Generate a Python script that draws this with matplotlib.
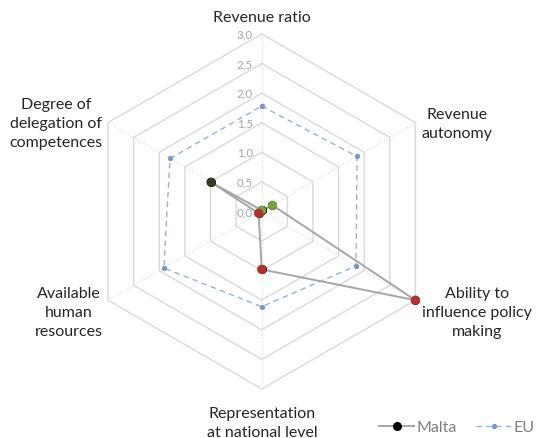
"""Radar chart: Malta vs EU local autonomy indicators"""
import numpy as np
import matplotlib
matplotlib.use('Agg')
import matplotlib.pyplot as plt

plt.rcParams['font.family'] = ['Lato', 'DejaVu Sans']

categories = ['Revenue ratio', 'Revenue\nautonomy',
              'Ability to\ninfluence policy\nmaking',
              'Representation\nat national level',
              'Available\nhuman\nresources',
              'Degree of\ndelegation of\ncompetences']
malta = [0.02, 0.21, 3.0, 0.98, 0.06, 0.99]
eu = [1.78, 1.86, 1.84, 1.61, 1.91, 1.79]
malta_point_colors = ['#7AA23C', '#7AA23C', '#B3312F', '#B3312F', '#B3312F', '#3B3A2A']
rings = [0.5, 1.0, 1.5, 2.0, 2.5, 3.0]
ring_labels = ['0,0', '0,5', '1,0', '1,5', '2,0', '2,5', '3,0']

n = len(categories)
angles = np.linspace(0, 2 * np.pi, n, endpoint=False)
closed = np.append(angles, angles[0])

fig = plt.figure(figsize=(5.38, 4.39), dpi=100)
ax = fig.add_axes([0.1565, 0.1117, 0.66, 0.8087], projection='polar')
ax.set_theta_offset(np.pi / 2)
ax.set_theta_direction(-1)
ax.set_ylim(0, 3)
ax.grid(False)
ax.spines['polar'].set_visible(False)
ax.set_xticks([])
ax.set_yticks([])

grid_col = '#D9D9D9'
# hexagonal rings
for r in rings:
    ax.plot(closed, [r] * (n + 1), color=grid_col, lw=1.0, zorder=1, clip_on=False)
# spokes
for a in angles:
    ax.plot([a, a], [0, 3], color=grid_col, lw=0.8, ls=':', zorder=1)

# radial tick labels along the top axis
for r, lab in zip([0.0] + rings, ring_labels):
    ax.annotate(lab, xy=(0, r), xytext=(-6.5, 0), textcoords='offset points',
                ha='right', va='center', fontsize=8.3, color='#A6A6A6')

# EU series
eu_line, = ax.plot(closed, eu + eu[:1], color='#9AB0D6', lw=1.0, ls=(0, (4, 3)),
                   marker='o', ms=2.8, mfc='#7F97C0', mec='#7F97C0', zorder=3, label='EU')

# Malta series
malta_line, = ax.plot(closed, malta + malta[:1], color='#A6A6A6', lw=1.4,
                      marker='o', ms=5.5, mfc='black', mec='black', zorder=4,
                      label='Malta', clip_on=False)
ax.scatter(angles, malta, s=45, c=malta_point_colors, zorder=5, linewidths=0,
           clip_on=False)

# category labels
label_pos = [(0.487, 0.958), (0.850, 0.717), (0.887, 0.287),
             (0.487, 0.036), (0.128, 0.287), (0.104, 0.717)]
for lab, (x, y) in zip(categories, label_pos):
    fig.text(x, y, lab, ha='center', va='center', fontsize=11.5,
             color='#262626', linespacing=1.45)

leg = fig.legend(handles=[malta_line, eu_line], loc='center right',
                 bbox_to_anchor=(1.0, 0.025), borderaxespad=0, borderpad=0.2,
                 ncol=2, frameon=False, fontsize=11.5, handlelength=2.2,
                 handletextpad=0.15, columnspacing=1.2)
for t in leg.get_texts():
    t.set_color('#7F7F7F')

fig.savefig('out.png', dpi=100)
